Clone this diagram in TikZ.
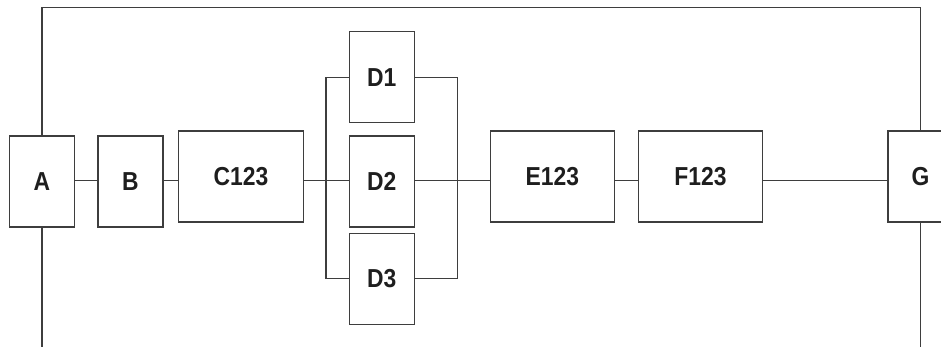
\documentclass[tikz,border=0pt]{standalone}
\usepackage{fontspec}
\setmainfont{Liberation Sans}
\newfontfamily\labelfont[FakeStretch=0.88]{Liberation Sans Bold}
\definecolor{linec}{RGB}{62,62,62}
\definecolor{txtc}{RGB}{30,30,30}
\begin{document}
\begin{tikzpicture}[x=1pt,y=-1pt,
  box/.style={draw=linec, line width=1.3pt, rectangle, inner sep=0pt,
    minimum width=#1, minimum height=91pt,
    font=\labelfont\fontsize{26}{26}\selectfont, text=txtc},
  box/.default=65pt,
  wire/.style={draw=linec, line width=1.3pt}]
\useasboundingbox (0,0) rectangle (941,346);
\clip (0,0) rectangle (941,346);
\coordinate (top) at (0,7.5);
\coordinate (bot) at (0,347);
\coordinate (main) at (0,180.5);
\node[box] (A) at (42,181.4) {A};
\node[box] (B) at (130.5,181.4) {B};
\node[box=124.6pt] (C) at (241,176.5) {C123};
\node[box] (D1) at (381.8,77.3) {D1};
\node[box] (D2) at (381.8,181.4) {D2};
\node[box] (D3) at (381.8,278.8) {D3};
\node[box=124pt] (E) at (552.3,176.5) {E123};
\node[box=124.4pt] (F) at (700.5,176.5) {F123};
\node[box] (G) at (920.5,176.5) {G};
% outer loop
\draw[wire] (A.north) -- (A.north |- top) -- (G.north |- top) -- (G.north);
\draw[wire] (A.south) -- (A.south |- bot);
\draw[wire] (G.south) -- (G.south |- bot);
% series connections
\draw[wire] (A.east |- main) -- (B.west |- main);
\draw[wire] (B.east |- main) -- (C.west |- main);
\draw[wire] (C.east |- main) -- (D2.west |- main);
\draw[wire] (D2.east |- main) -- (E.west |- main);
\draw[wire] (E.east |- main) -- (F.west |- main);
\draw[wire] (F.east |- main) -- (G.west |- main);
% parallel buses
\draw[wire] (D1.west) -- ++(-22.6,0) |- (D3.west);
\draw[wire] (D1.east) -- ++(42.4,0) |- (D3.east);
\end{tikzpicture}
\end{document}
